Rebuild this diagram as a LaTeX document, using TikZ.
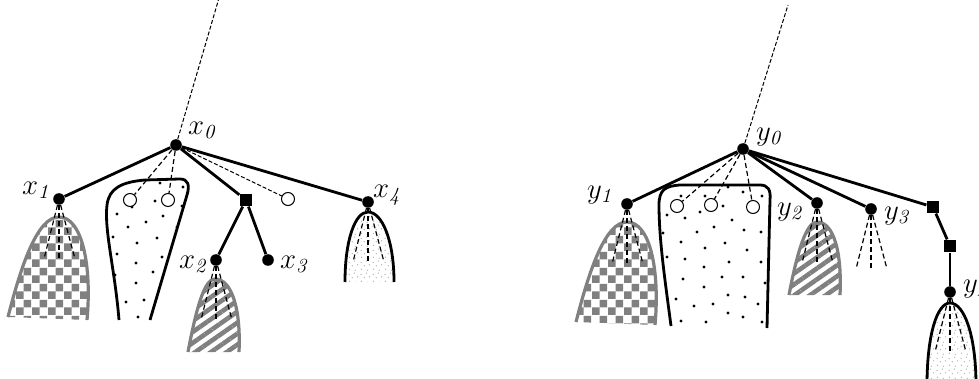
\documentclass[tikz,border=0pt]{standalone}
\usetikzlibrary{patterns, patterns.meta}

\tikzdeclarepattern{
  name=bigchecks,
  type=uncolored,
  bounding box={(0pt,0pt) and (8pt,8pt)},
  tile size={(8pt,8pt)},
  code={
    \fill (0pt,0pt) rectangle (4pt,4pt);
    \fill (4pt,4pt) rectangle (8pt,8pt);
  }
}
\tikzdeclarepattern{
  name=stipple,
  type=uncolored,
  bounding box={(0pt,0pt) and (6pt,6pt)},
  tile size={(6pt,6pt)},
  code={
    \fill (0.8pt,0.9pt) circle[radius=0.35pt];
    \fill (3.9pt,0.4pt) circle[radius=0.35pt];
    \fill (2.3pt,2.8pt) circle[radius=0.35pt];
    \fill (5.1pt,3.3pt) circle[radius=0.35pt];
    \fill (0.6pt,4.6pt) circle[radius=0.35pt];
    \fill (3.4pt,5.3pt) circle[radius=0.35pt];
  }
}

\begin{document}
\begin{tikzpicture}[x=0.5pt, y=-0.5pt,
  vertex/.style={circle, fill=black, inner sep=0pt, minimum size=5.8pt},
  hole/.style={circle, draw, fill=white, inner sep=0pt, minimum size=6.5pt, line width=0.5pt},
  cut/.style={rectangle, fill=black, inner sep=0pt, minimum size=6.2pt},
  lbl/.style={font=\Large, inner sep=0pt},
  tree/.style={line width=1.4pt},
  hint/.style={dash pattern=on 2pt off 1pt, line width=0.5pt},
  fanline/.style={dash pattern=on 2.5pt off 1.5pt, line width=0.6pt},
  rim/.style={line width=1.4pt},
  grayrim/.style={line width=1.6pt, draw=gray}]
  \useasboundingbox (0,0) rectangle (979,379);

  % ---- left tree: subtrees below the vertices
  \draw[grayrim, pattern=bigchecks, pattern color=gray]
    (8,317) .. controls (22,262) and (38,217) .. (59,217) .. controls (82,217) and (92,265) .. (87,320);
  \draw[grayrim, pattern={Lines[angle=35, distance=4.5pt, line width=2.3pt]}, pattern color=gray]
    (188,352) .. controls (196,310) and (204,279) .. (215,279) .. controls (232,279) and (241,310) .. (239,352);
  \draw[rim, pattern=stipple, pattern color=gray!70]
    (345,282) .. controls (345,240) and (355,212) .. (368,212) .. controls (382,212) and (394,240) .. (394,282);
  \draw[rim] (119,320) .. controls (115,270) and (104,230) .. (107,205) .. controls (109,188) and (122,182) .. (145,180)
    -- (180,179) .. controls (188,179) and (190,185) .. (187,195) -- (150,320);
  \foreach \p in {(160,183),(183,187),(132,207),(155,201),(182,206),(117,214),(163,216),(128,227),(146,222),
                  (177,227),(113,237),(157,238),(137,243),(117,254),(162,257),(136,263),(115,275),(153,272),
                  (136,283),(126,302),(144,300),(138,317)}
    \fill \p circle[radius=0.8pt];

  % ---- left tree: vertices
  \node[vertex] (x0) at (176,145) {};
  \coordinate (xtop) at (219,-2);
  \node[vertex] (x1) at (59,199) {};
  \node[hole] (xa) at (130,200) {};
  \node[hole] (xb) at (168,200) {};
  \node[cut] (xs) at (246,200) {};
  \node[hole] (xc) at (288,199) {};
  \node[vertex] (x4) at (368,202) {};
  \node[vertex] (x2) at (216,260) {};
  \node[vertex] (x3) at (268,260) {};

  \node[lbl] (lx0) at (203,130) {$x_{\mathit{0}}$};
  \node[lbl] (lx1) at (37,190) {$x_{\mathit{1}}$};
  \node[lbl] (lx2) at (194,264) {$x_{\mathit{2}}$};
  \node[lbl] (lx3) at (295,264) {$x_{\mathit{3}}$};
  \node[lbl] (lx4) at (388,195) {$x_{\mathit{4}}$};

  % ---- left tree: edges
  \draw[hint] (x0) -- (xtop);
  \draw[tree] (x0) -- (x1);
  \draw[tree] (x0) -- (xs);
  \draw[tree] (x0) -- (x4);
  \draw[tree] (xs) -- (x2);
  \draw[tree] (xs) -- (x3);
  \draw[fanline] (x0) -- (xa);
  \draw[fanline] (x0) -- (xb);
  \draw[hint] (x0) -- (xc);
  \foreach \v in {x1,x2,x4}
    \foreach \d in {-15,0,16}
      \draw[fanline] (\v) -- ++(\d,60);

  % ---- right tree: subtrees below the vertices
  \draw[grayrim, pattern=bigchecks, pattern color=gray]
    (576,322) .. controls (590,267) and (606,222) .. (627,222) .. controls (650,222) and (660,270) .. (655,325);
  \draw[grayrim, pattern={Lines[angle=35, distance=4.5pt, line width=2.3pt]}, pattern color=gray]
    (789,295) .. controls (797,253) and (806,222) .. (817,222) .. controls (834,222) and (842,253) .. (840,295);
  \draw[rim, pattern=stipple, pattern color=gray!70]
    (927,385) .. controls (927,335) and (937,303) .. (950,303) .. controls (964,303) and (976,335) .. (976,385);
  \draw[rim] (671,326) .. controls (665,280) and (659,240) .. (659,205) .. controls (659,190) and (665,186) .. (680,185)
    -- (760,185) .. controls (768,185) and (771,190) .. (770,200) -- (767,328);
  \foreach \p in {(728,187),(743,192),(762,196),(681,196),(705,196),(723,206),(667,215),(685,218),(700,212),
                  (732,220),(663,233),(697,232),(714,227),(744,230),(761,232),(681,242),(705,248),(725,243),
                  (747,250),(667,257),(685,259),(729,262),(761,262),(704,267),(683,279),(722,277),(743,277),
                  (765,283),(704,287),(728,295),(745,297),(676,299),(694,306),(713,304),(758,304),(728,313),
                  (743,317),(681,321),(706,322),(762,322)}
    \fill \p circle[radius=0.8pt];

  % ---- right tree: vertices
  \node[vertex] (y0) at (743,149) {};
  \coordinate (ytop) at (788,5);
  \node[vertex] (y1) at (627,204) {};
  \node[hole] (ya) at (677,206) {};
  \node[hole] (yb) at (711,205) {};
  \node[hole] (yc) at (753,207) {};
  \node[vertex] (y2) at (817,203) {};
  \node[vertex] (y3) at (871,209) {};
  \node[cut] (ys1) at (933,207) {};
  \node[cut] (ys2) at (950,246) {};
  \node[vertex] (y4) at (950,292) {};

  \node[lbl] (ly0) at (770,137) {$y_{\mathit{0}}$};
  \node[lbl] (ly1) at (601,195) {$y_{\mathit{1}}$};
  \node[lbl] (ly2) at (791,212) {$y_{\mathit{2}}$};
  \node[lbl] (ly3) at (898,216) {$y_{\mathit{3}}$};
  \node[lbl] (ly4) at (977,290) {$y_{\mathit{4}}$};

  % ---- right tree: edges
  \draw[hint] (y0) -- (ytop);
  \draw[tree] (y0) -- (y1);
  \draw[tree] (y0) -- (y2);
  \draw[tree] (y0) -- (y3);
  \draw[tree] (y0) -- (ys1);
  \draw[tree] (ys1) -- (ys2);
  \draw[tree] (ys2) -- (y4);
  \draw[fanline] (y0) -- (ya);
  \draw[fanline] (y0) -- (yb);
  \draw[fanline] (y0) -- (yc);
  \foreach \v in {y1,y2,y3,y4}
    \foreach \d in {-15,0,16}
      \draw[fanline] (\v) -- ++(\d,60);
\end{tikzpicture}
\end{document}
